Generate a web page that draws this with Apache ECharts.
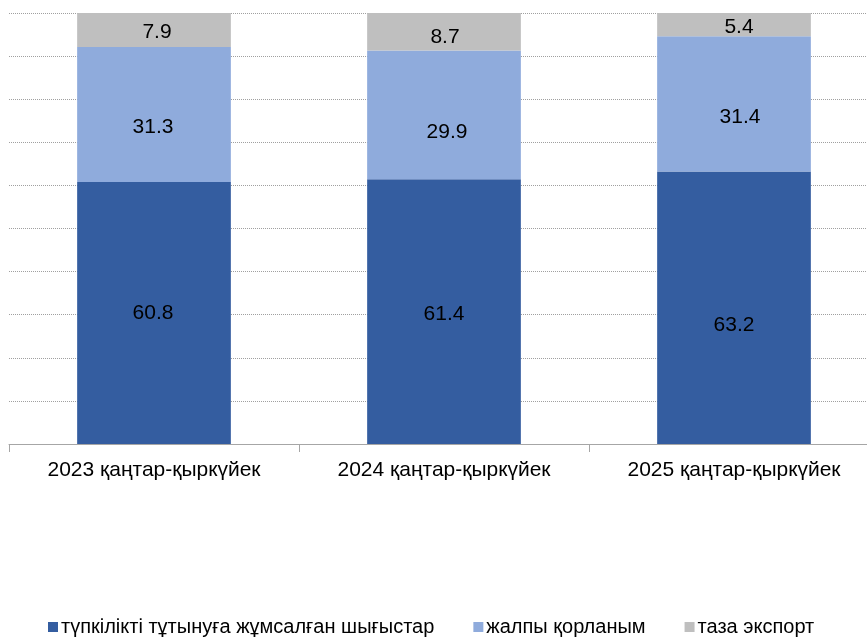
<!DOCTYPE html>
<html><head><meta charset="utf-8">
<script src="https://cdn.jsdelivr.net/npm/echarts@6/dist/echarts.min.js"></script>
<style>html,body{margin:0;padding:0;background:#fff;overflow:hidden;width:867px;height:637px}#c{width:880px;height:637px}</style>
</head><body><div id="c"></div>
<script>
const categories = ['2023 қаңтар-қыркүйек', '2024 қаңтар-қыркүйек', '2025 қаңтар-қыркүйек'];
const seriesNames = ['түпкілікті тұтынуға жұмсалған шығыстар', 'жалпы қорланым', 'таза экспорт'];
const consumption = [60.8, 61.4, 63.2];
const accumulation = [31.3, 29.9, 31.4];
const netExport = [7.9, 8.7, 5.4];
const colors = ['#345DA0', '#8FABDC', '#BFBFBF'];
const font = 'Liberation Sans, Arial, sans-serif';

// label nudges (pixels) as placed in the original chart
const labelNudge = [
  [[-1, 0], [0, 3], [0, 17]],
  [[-1, 13], [3, 17], [6, 13]],
  [[3, 2], [1, 5], [5, 3]]
];

const chart = echarts.init(document.getElementById('c'), null, {renderer: 'canvas'});
const mk = (i, data) => ({
  name: seriesNames[i], type: 'bar', stack: 'total', barWidth: '53%',
  data: data.map((v, j) => ({value: v, label: {offset: labelNudge[i][j]}})),
  itemStyle: {color: colors[i]},
  label: {show: true, position: 'inside', color: '#000', fontFamily: font, fontSize: 21,
          formatter: p => p.value.toFixed(1)}
});
chart.setOption({
  animation: false,
  grid: {left: 9, top: 13, right: 1, bottom: 193, containLabel: false},
  xAxis: {
    type: 'category', data: categories,
    axisLine: {lineStyle: {color: '#A6A6A6'}},
    axisTick: {show: true, length: 8, lineStyle: {color: '#A6A6A6'}},
    axisLabel: {color: '#000', fontFamily: font, fontSize: 21, margin: 16}
  },
  yAxis: {
    type: 'value', min: 0, max: 100, interval: 10,
    axisLabel: {show: false}, axisLine: {show: false}, axisTick: {show: false},
    splitLine: {lineStyle: {color: '#A0A0A0', type: [1, 1], width: 1}}
  },
  legend: {
    left: 43, top: 612, itemWidth: 10, itemHeight: 10, icon: 'rect', itemGap: 39,
    textStyle: {color: '#000', fontFamily: font, fontSize: 20, padding: [0,0,0,-2]},
    data: seriesNames
  },
  series: [mk(0, consumption), mk(1, accumulation), mk(2, netExport)]
});
</script></body></html>
